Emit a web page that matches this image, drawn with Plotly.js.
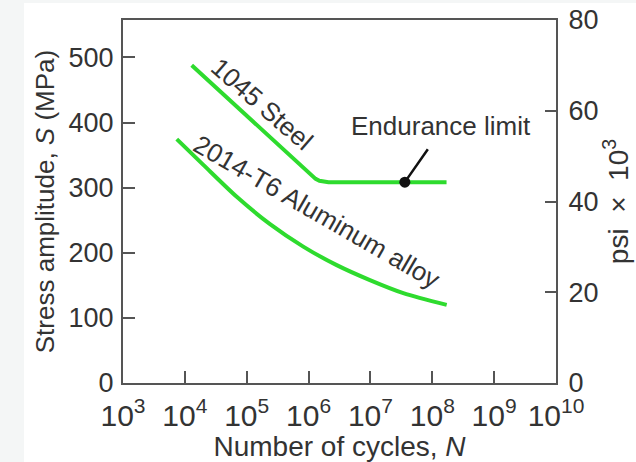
<!DOCTYPE html>
<html>
<head>
<meta charset="utf-8">
<script src="https://cdn.plot.ly/plotly-3.0.1.min.js"></script>
<style>
  html, body { margin: 0; padding: 0; background: #f4f6f6; width: 636px; height: 462px; overflow: hidden; }
  #chart { position: absolute; left: 24px; top: 3px; width: 612px; height: 459px; background: #ffffff; }
</style>
</head>
<body>
<div id="chart"></div>
<script>
// Number of cycles N and stress amplitude S (MPa)
const steelCycles = [1.29e4, 6.9e4, 2.4e5, 6.5e5, 8.8e5, 1.1e6, 1.3e6, 1.5e6, 1.74e6, 2.1e6, 1.7e8];
const steelStress = [488, 425, 378, 339, 328, 319, 313.5, 310.5, 309, 308.5, 308.5];

const alumCycles = [7.4e3, 1.99e4, 6.9e4, 2.38e5, 8.2e5, 2.85e6, 9.8e6, 3.4e7, 1.71e8];
const alumStress = [374.5, 335, 286, 244, 209.5, 181, 158, 138, 120];

const enduranceCycles = [3.6e7];
const enduranceStress = [308.5];

const xTickVals = [1e3, 1e4, 1e5, 1e6, 1e7, 1e8, 1e9, 1e10];
const xTickText = ['10<sup>3</sup>', '10<sup>4</sup>', '10<sup>5</sup>', '10<sup>6</sup>',
                   '10<sup>7</sup>', '10<sup>8</sup>', '10<sup>9</sup>', '10<sup>10</sup>'];
const yTickVals = [0, 100, 200, 300, 400, 500];
const y2TickVals = [0, 20, 40, 60, 80];

const green = '#2edb2e';
const axisColor = '#555555';
const textColor = '#333333';
const font = 'Liberation Sans, Arial, Helvetica, sans-serif';

const traces = [
  { x: steelCycles, y: steelStress, mode: 'lines', name: '1045 Steel',
    line: { color: green, width: 4, shape: 'linear' }, hoverinfo: 'x+y' },
  { x: alumCycles, y: alumStress, mode: 'lines', name: '2014-T6 Aluminum alloy',
    line: { color: green, width: 4, shape: 'spline', smoothing: 0.8 }, hoverinfo: 'x+y' },
  { x: enduranceCycles, y: enduranceStress, mode: 'markers', name: 'Endurance limit',
    marker: { color: '#111111', size: 11 }, hoverinfo: 'x+y' },
  { x: [1e3], y: [0], yaxis: 'y2', mode: 'markers', marker: { opacity: 0 }, hoverinfo: 'skip', showlegend: false }
];

const layout = {
  width: 612, height: 459,
  margin: { l: 99, r: 80, t: 17, b: 79 },
  paper_bgcolor: '#ffffff', plot_bgcolor: '#ffffff',
  showlegend: false,
  font: { family: font, color: textColor, size: 26 },
  xaxis: {
    type: 'log', range: [3, 10], tickvals: xTickVals, ticktext: xTickText, tickangle: 0,
    showgrid: false, zeroline: false,
    showline: true, linecolor: axisColor, linewidth: 2, mirror: true,
    ticks: 'inside', ticklen: 12, tickwidth: 2, tickcolor: axisColor,
    tickfont: { size: 30, color: textColor },
    ticklabelstandoff: 5,
    title: { text: 'Number of cycles, <i>N</i>', font: { size: 28, color: textColor }, standoff: 1 }
  },
  yaxis: {
    range: [0, 557.5], tickvals: yTickVals,
    showgrid: false, zeroline: false,
    showline: true, linecolor: axisColor, linewidth: 2,
    ticks: 'inside', ticklen: 12, tickwidth: 2, tickcolor: axisColor,
    tickfont: { size: 27, color: textColor },
    ticklabelstandoff: 2,
    title: { text: 'Stress amplitude, <i>S</i> (MPa)', font: { size: 26, color: textColor }, standoff: 6 }
  },
  yaxis2: {
    overlaying: 'y', side: 'right',
    range: [0, 80], tickvals: y2TickVals,
    showgrid: false, zeroline: false,
    showline: true, linecolor: axisColor, linewidth: 2,
    ticks: 'inside', ticklen: 11, tickwidth: 2, tickcolor: axisColor,
    tickfont: { size: 27, color: textColor },
    ticklabelstandoff: 5,
    title: { text: 'psi  ×  10<sup>3</sup>', font: { size: 28, color: textColor }, standoff: 10 }
  },
  annotations: [
    { x: 5.247, y: 428.8, xref: 'x', yref: 'y', text: '1045 Steel', showarrow: false,
      textangle: 41, font: { size: 26, color: textColor } },
    { x: 6.136, y: 262, xref: 'x', yref: 'y', text: '2014-T6 Aluminum alloy', showarrow: false,
      textangle: 30, font: { size: 26, color: textColor } },
    { x: 8.14, y: 395, xref: 'x', yref: 'y', text: 'Endurance limit', showarrow: false,
      font: { size: 26, color: textColor } },
    { x: Math.log10(enduranceCycles[0]), y: enduranceStress[0], xref: 'x', yref: 'y', text: ' ',
      showarrow: true, arrowhead: 0, arrowwidth: 2.5, arrowcolor: '#111111', ax: 28, ay: -40 }
  ]
};

Plotly.newPlot('chart', traces, layout, { displayModeBar: false, staticPlot: true });
</script>
</body>
</html>
